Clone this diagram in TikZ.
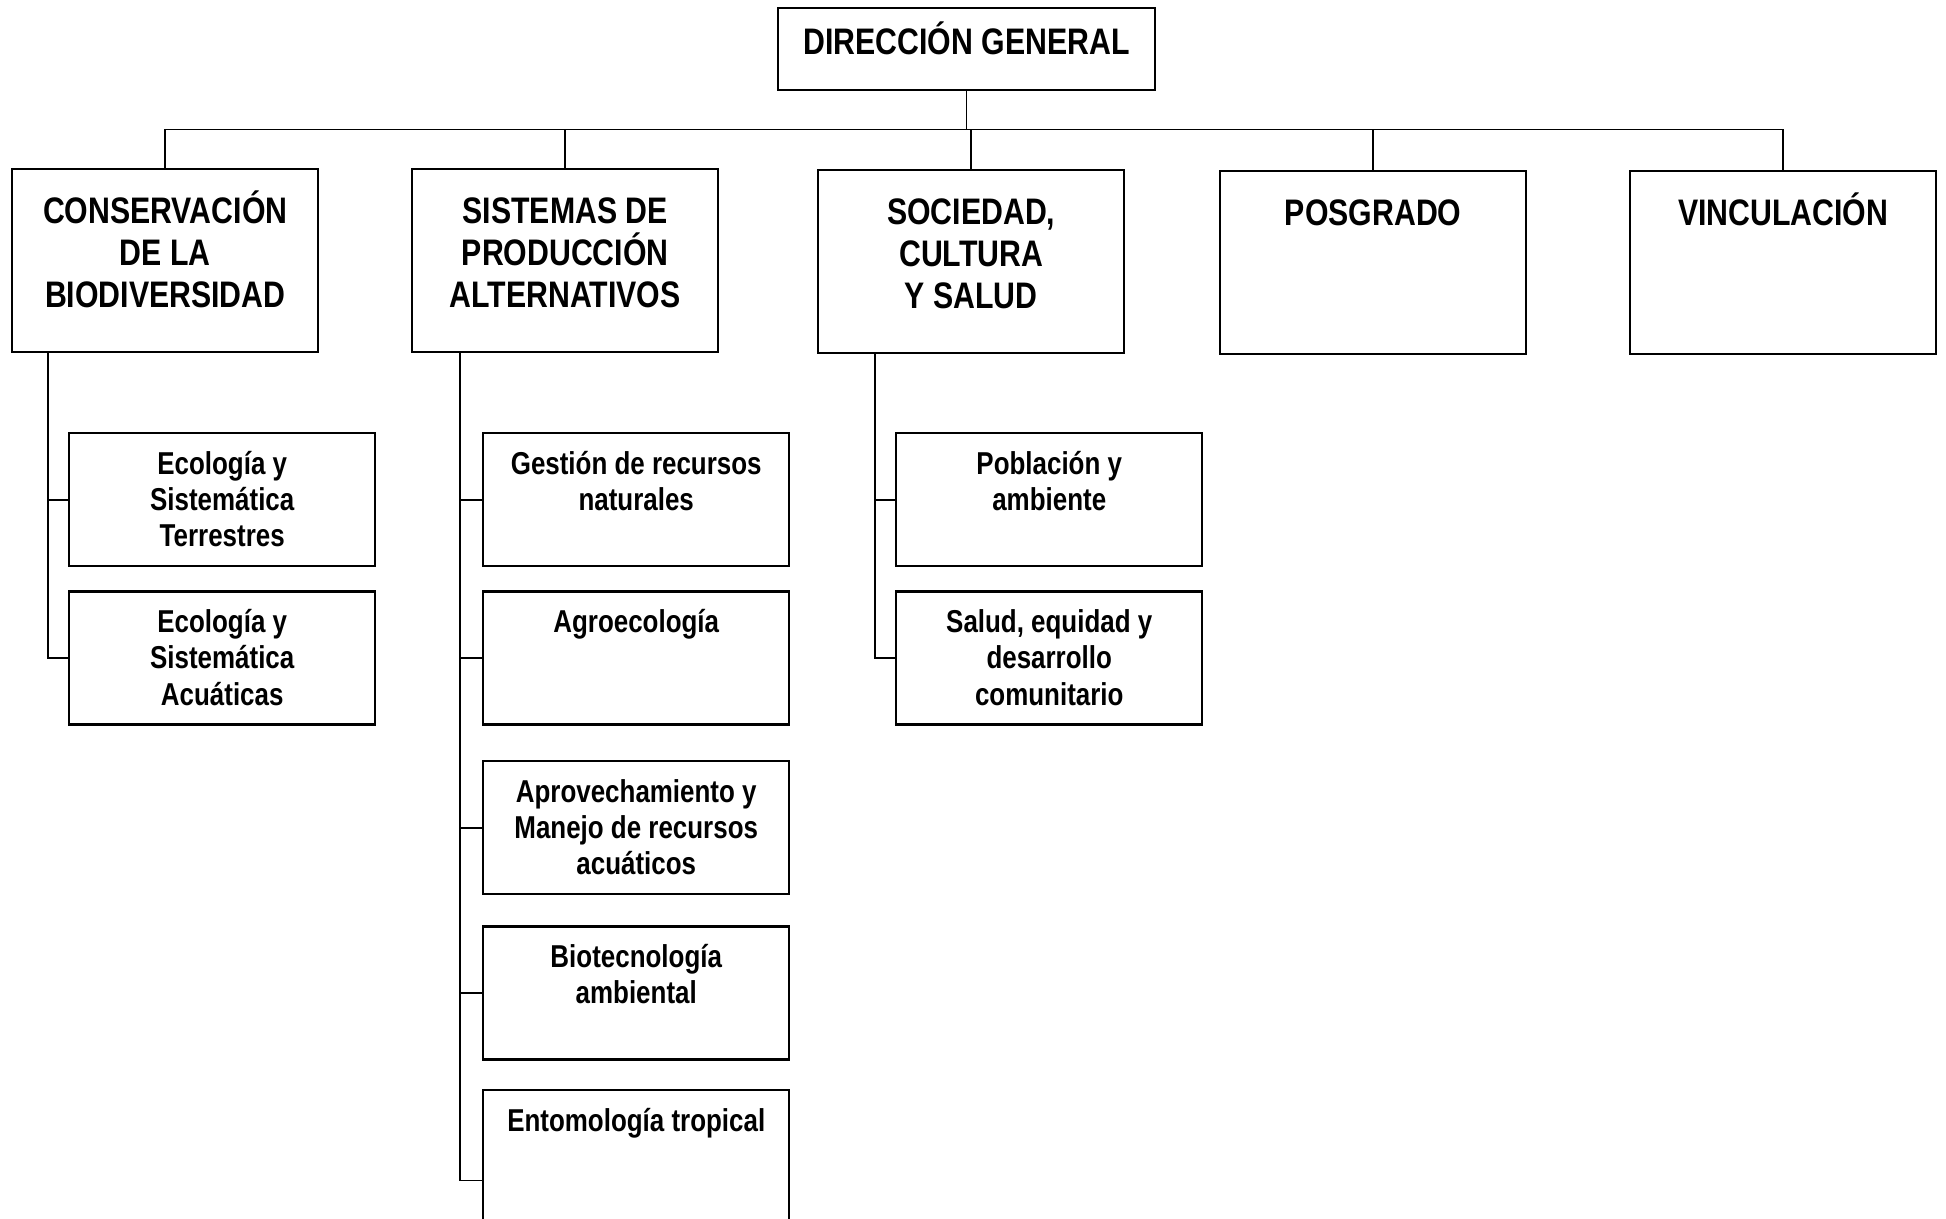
\documentclass[tikz,border=0pt]{standalone}
\usepackage{fontspec}
\setmainfont[FakeStretch=0.82]{Liberation Sans}
\usetikzlibrary{positioning}

\begin{document}
\begin{tikzpicture}[node distance=0.3cm,
  every node/.style={draw, line width=0.7pt, align=flush center, inner xsep=0pt, inner ysep=0pt},
  area/.style={anchor=north west, text width=3.06cm, text height=0.54cm, text depth=1.29cm, font=\fontsize{10.5}{12}\selectfont\bfseries},
  unit/.style={text width=3.06cm, text height=0.41cm, text depth=0.92cm, font=\fontsize{9}{10.3}\selectfont\bfseries},
  link/.style={line width=0.5pt}]
\useasboundingbox (0,0) rectangle (19.46,-12.19);

\node (dir) [anchor=north, text width=3.77cm, text height=0.46cm, text depth=0.36cm, font=\fontsize{10.5}{12}\selectfont\bfseries] at (9.665,-0.07) {DIRECCIÓN GENERAL};

% areas
\node (cons) [area] at (0.11,-1.68) {CONSERVACIÓN\\DE LA\\BIODIVERSIDAD};
\node (sist) [area] at (4.11,-1.68) {SISTEMAS DE\\PRODUCCIÓN\\ALTERNATIVOS};
\node (soc) [area] at (8.17,-1.69) {SOCIEDAD,\\CULTURA\\Y SALUD};
\node (posg) [area] at (12.19,-1.70) {POSGRADO};
\node (vinc) [area] at (16.29,-1.70) {VINCULACIÓN};

% units
\node (ecoT) [unit, anchor=north west] at (0.68,-4.32) {Ecología y\\Sistemática\\Terrestres};
\node (ecoA) [unit, below=0.23cm of ecoT] {Ecología y\\Sistemática\\Acuáticas};

\node (gest) [unit, anchor=north west] at (4.82,-4.32) {Gestión de recursos\\naturales};
\node (agro) [unit, below=0.23cm of gest] {Agroecología};
\node (apro) [unit, below=0.34cm of agro] {Aprovechamiento y\\Manejo de recursos\\acuáticos};
\node (biot) [unit, below=0.30cm of apro] {Biotecnología\\ambiental};
\node (ento) [unit, below=0.28cm of biot, text depth=1.4cm] {Entomología tropical};

\node (pobl) [unit, anchor=north west] at (8.95,-4.32) {Población y\\ambiente};
\node (salu) [unit, below=0.23cm of pobl] {Salud, equidad y\\desarrollo\\comunitario};

% lines
\draw[link] (dir.south) -- ++(0,-0.38) coordinate (bus);
\draw[link] (cons.north) |- (bus) -| (vinc.north);
\foreach \n in {sist,soc,posg}
  \draw[link] (\n.north) -- (\n.north |- bus);

\draw[link] ([xshift=-0.2cm]ecoT.west |- cons.south) |- (ecoA.west);
\draw[link] ([xshift=-0.2cm]ecoT.west) -- (ecoT.west);

\draw[link] ([xshift=-0.22cm]gest.west |- sist.south) |- (ento.west);
\foreach \n in {gest,agro,apro,biot}
  \draw[link] ([xshift=-0.22cm]\n.west) -- (\n.west);

\draw[link] ([xshift=-0.2cm]pobl.west |- soc.south) |- (salu.west);
\draw[link] ([xshift=-0.2cm]pobl.west) -- (pobl.west);
\end{tikzpicture}
\end{document}
